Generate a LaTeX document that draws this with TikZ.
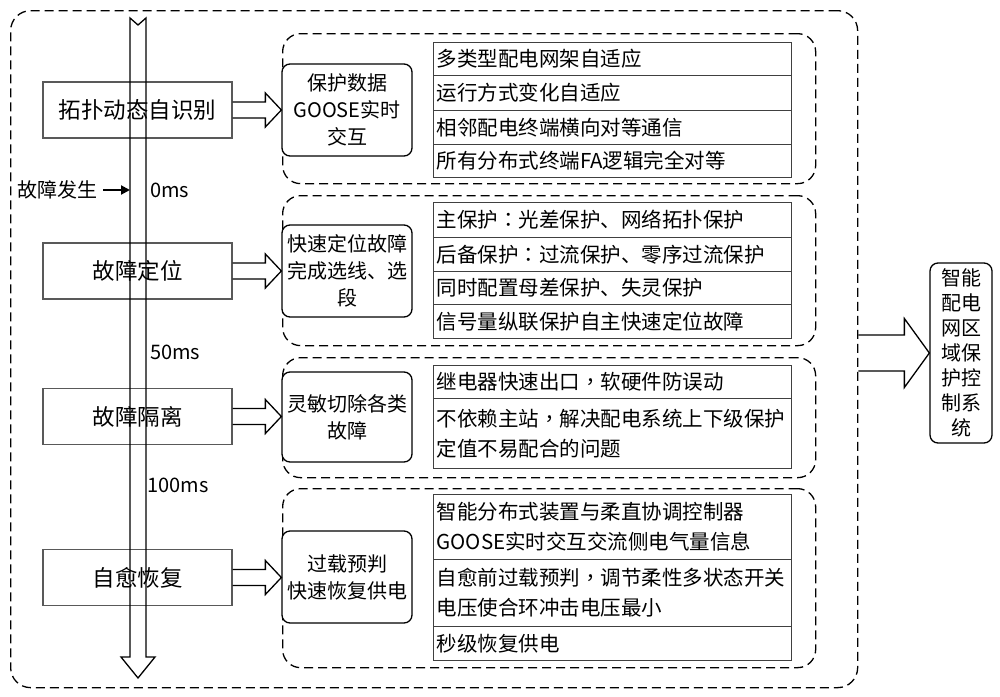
\documentclass[tikz,border=0pt]{standalone}
\usepackage{fontspec}
\setmainfont{Noto Sans CJK SC}
\newfontfamily\tcfont{Noto Sans CJK TC}
\newcommand{\cp}[1]{{\tcfont #1}}
\usetikzlibrary{arrows.meta,calc}
\begin{document}
\begin{tikzpicture}[x=1pt,y=-1pt,
  dashbox/.style={draw, line width=1.3pt, dash pattern=on 9pt off 5pt, rounded corners=18pt, anchor=north west, inner sep=0pt},
  leftbox/.style={draw=black!65, line width=1.1pt, minimum width=189pt, minimum height=56pt, inner sep=0pt, font=\fontsize{22.5}{26}\selectfont},
  midbox/.style={draw, fill=white, line width=1.3pt, rounded corners=8pt, minimum width=130pt, minimum height=92pt, text width=126pt, inner xsep=2pt, inner ysep=0pt, align=center, font=\fontsize{20}{27}\selectfont},
  cell/.style={draw=black!75, line width=1.1pt, anchor=north west, text width=352pt, inner xsep=3pt, inner ysep=0pt, align=left, font=\fontsize{20.5}{30}\selectfont},
  blkarrow/.style n args={3}{draw, line width=1.3pt, to path={let \p1=(\tikztostart), \p2=(\tikztotarget) in (\x1,\y1+#1) -- (\x2-#3,\y1+#1) -- (\x2-#3,\y1+#2) -- (\x2,\y1) -- (\x2-#3,\y1-#2) -- (\x2-#3,\y1-#1) -- (\x1,\y1-#1)}},
  lbl/.style={font=\fontsize{20}{24}\selectfont, inner sep=0pt}
]
\useasboundingbox (0,0) rectangle (1000,696);

% outer frame
\node[dashbox, rounded corners=20pt, minimum width=847pt, minimum height=677pt] (O) at (10,10) {};

% groups
\node[dashbox, minimum width=533pt, minimum height=150pt] (G1) at (282,33) {};
\node[dashbox, minimum width=533pt, minimum height=150pt] (G2) at (282,195) {};
\node[dashbox, minimum width=533pt, minimum height=120pt] (G3) at (282,357) {};
\node[dashbox, minimum width=533pt, minimum height=179pt] (G4) at (282,488) {};

% table cells
\node[cell, minimum height=33pt] (c11) at (433,42) {多类型配电网架自适应};
\node[cell, minimum height=35pt] (c12) at (433,75) {运行方式变化自适应};
\node[cell, minimum height=34pt] (c13) at (433,110) {相邻配电终端横向对等通信};
\node[cell, minimum height=33pt] (c14) at (433,144) {所有分布式终端FA逻辑完全对等};

\node[cell, minimum height=35pt] (c21) at (433,202) {主保护\cp{：}光差保护、网络拓扑保护};
\node[cell, minimum height=34pt] (c22) at (433,237) {后备保护\cp{：}过流保护、零序过流保护};
\node[cell, minimum height=33pt] (c23) at (433,271) {同时配置母差保护、失灵保护};
\node[cell, minimum height=34pt] (c24) at (433,304) {信号量纵联保护自主快速定位故障};

\node[cell, minimum height=33pt] (c31) at (433,365) {继电器快速出口\cp{，}软硬件防误动};
\node[cell, minimum height=70pt] (c32) at (433,398) {不依赖主站\cp{，}解决配电系统上下级保护\\定值不易配合的问题};

\node[cell, minimum height=65pt] (c41) at (433,494) {智能分布式装置与柔直协调控制器\\GOOSE实时交互交流侧电气量信息};
\node[cell, minimum height=67pt] (c42) at (433,559) {自愈前过载预判\cp{，}调节柔性多状态开关\\电压使合环冲击电压最小};
\node[cell, minimum height=34pt] (c43) at (433,626) {秒级恢复供电};

% middle boxes
\node[midbox] (M1) at (347,110) {保护数据\\GOOSE实时\\交互};
\node[midbox] (M2) at (347,271) {快速定位故障\\完成选线、选\\段};
\node[midbox, minimum height=90pt] (M3) at (347,417) {灵敏切除各类\\故障};
\node[midbox] (M4) at (347,577) {过载预判\\快速恢复供电};

% left boxes
\node[leftbox] (L1) at (137.5,110) {拓扑动态自识别};
\node[leftbox] (L2) at (137.5,271) {故障定位};
\node[leftbox] (L3) at (137.5,416.5) {故障隔离};
\node[leftbox] (L4) at (137.5,577.5) {自愈恢复};

% timeline arrow
\draw[line width=1.3pt, line join=miter] (130,18) -- (130,657) -- (121,657) -- (138,678) -- (155,657) -- (146,657) -- (146,18) -- (138,25) -- cycle;

% time labels
\node[lbl, anchor=east] (fs) at (98,190) {故障发生};
\coordinate (tl) at (130,190);
\draw[line width=2pt, shorten <=5pt, -{Triangle[length=9pt,width=9pt]}] (fs) -- (tl);
\node[lbl, anchor=west] (t0) at (150,190) {0ms};
\node[lbl, anchor=west] (t50) at (150,352) {50ms};
\node[lbl, anchor=west] (t100) at (147,485) {100ms};

% block arrows
\draw[blkarrow={8pt}{17pt}{16pt}] (L1.east) to (M1.west);
\draw[blkarrow={8pt}{17pt}{16pt}] (L2.east) to (M2.west);
\draw[blkarrow={8pt}{17pt}{16pt}] (L3.east) to (M3.west);
\draw[blkarrow={8pt}{17pt}{16pt}] (L4.east) to (M4.west);

% right system box
\node[draw, line width=1.3pt, rounded corners=8pt, minimum width=62pt, minimum height=180pt, text width=44pt, inner sep=0pt, align=center, font=\fontsize{20}{25}\selectfont] (S) at (961,353) {智能\\配电\\网区\\域保\\护控\\制系\\统};
\draw[blkarrow={18pt}{34.5pt}{25pt}] (O.east |- S.west) to (S.west);

\end{tikzpicture}
\end{document}
